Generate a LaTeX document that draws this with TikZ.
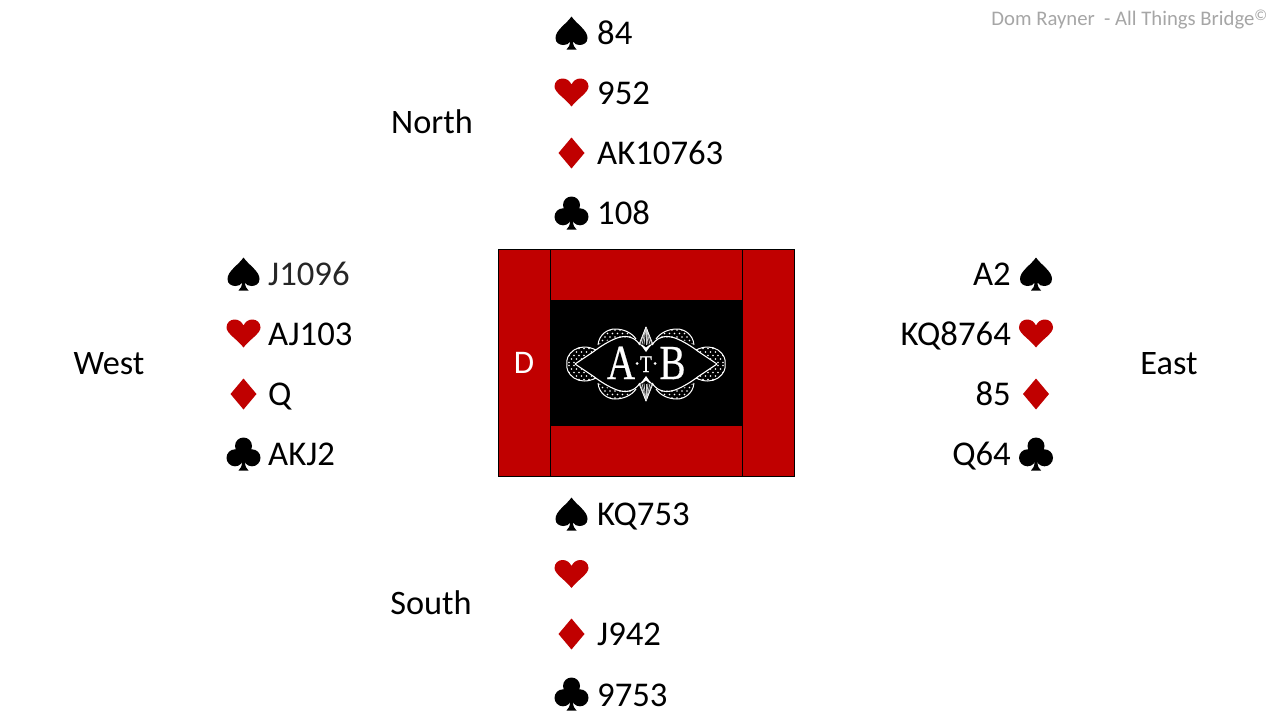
\documentclass[tikz,border=0pt]{standalone}
\usepackage{fontspec}
\setmainfont{Carlito}
\newfontfamily\logofont[FakeBold=0.5]{Liberation Serif}
\definecolor{atbred}{HTML}{C00000}
\definecolor{wmgrey}{HTML}{A6A6A6}
\tikzset{
  handtext/.style={font=\fontsize{34.7}{40}\selectfont, inner sep=0pt, text=black, yshift=-1pt},
  hw/.style={handtext, anchor=base west},
  he/.style={handtext, anchor=base east},
  seat/.style={font=\fontsize{34.3}{38}\selectfont, inner sep=0pt, anchor=base, text=black},
  felt/.style={fill=atbred, draw=black, line width=0.9pt},
  logoline/.style={draw=white, line width=1pt},
  logoletter/.style={font=\logofont\fontsize{49}{50}\selectfont, text=white, inner sep=0pt, anchor=base},
  spadesuit/.pic={\fill[black] (0,-16.5) .. controls (-5,-9) and (-16,-3) .. (-16,5) .. controls (-16,10) and (-12,12) .. (-8,12) .. controls (-5,12) and (-3,11) .. (-1.5,8.5) .. controls (-1.5,12) and (-3,15) .. (-5,16.5) -- (5,16.5) .. controls (3,15) and (1.5,12) .. (1.5,8.5) .. controls (3,11) and (5,12) .. (8,12) .. controls (12,12) and (16,10) .. (16,5) .. controls (16,-3) and (5,-9) .. (0,-16.5) -- cycle;},
  heartsuit/.pic={\fill[atbred] (0,14) .. controls (-6,6) and (-17,0) .. (-17,-6) .. controls (-17,-11) and (-13,-14) .. (-9,-14) .. controls (-5,-14) and (-2,-12) .. (0,-8) .. controls (2,-12) and (5,-14) .. (9,-14) .. controls (13,-14) and (17,-11) .. (17,-6) .. controls (17,0) and (6,6) .. (0,14) -- cycle;},
  diamondsuit/.pic={\fill[atbred] (0,-15.5) -- (13,0) -- (0,15.5) -- (-13,0) -- cycle;},
  clubsuit/.pic={\fill[black] (0,-8) circle (8.5) (-8.5,3.8) circle (8.5) (8.5,3.8) circle (8.5);
    \fill[black] (-1.5,-2) -- (1.5,-2) -- (1.5,8) .. controls (1.5,12) and (3,15) .. (5,16.5) -- (-5,16.5) .. controls (-3,15) and (-1.5,12) .. (-1.5,8) -- cycle;},
}
\begin{document}
\begin{tikzpicture}[x=1pt,y=-1pt]
\useasboundingbox (0,0) rectangle (1280,720);
\fill[white] (0,0) rectangle (1280,720);
% table
\filldraw[felt] (498.5,249.5) rectangle (794.5,476.5);
\draw[black,line width=0.8pt] (550.5,249.5) -- (550.5,476.5) (742.5,249.5) -- (742.5,476.5);
\fill[black] (550.5,300) rectangle (742.5,426);
\node[font=\fontsize{33}{38}\selectfont,text=white,inner sep=0pt,anchor=base] (dealer) at (524,373.5) {D};
% logo
\begin{scope}[shift={(646,364)}]
  \foreach \sx in {1,-1} \foreach \sy in {1,-1} {
    \begin{scope}[xscale=\sx,yscale=\sy]
      % dots in the side lobe and top lobe
      \begin{scope}
        \clip (-71,0) .. controls (-64,-4) and (-58,-9) .. (-50,-14) .. controls (-58,-18) and (-66,-18) .. (-72,-14) .. controls (-78,-10) and (-80,-4) .. (-79,0) -- cycle;
        \foreach \i in {0,...,6} \foreach \j in {0,...,4}
          \fill[white] (-82+\i*5+\j*2.5,-1.5-\j*3.5) circle (0.85);
      \end{scope}
      \begin{scope}
        \clip (-48,-19) .. controls (-47,-30) and (-38,-35) .. (-31,-35) .. controls (-22,-35) and (-14,-31) .. (-10,-25) .. controls (-18,-28) and (-35,-27) .. (-48,-19) -- cycle;
        \foreach \i in {0,...,9} \foreach \j in {0,...,4}
          \fill[white] (-56+\i*5+\j*2.5,-20-\j*3.5) circle (0.85);
      \end{scope}
      % outlines
      \draw[logoline] (-50,-14) .. controls (-58,-18) and (-66,-18) .. (-72,-14) .. controls (-78,-10) and (-80,-4) .. (-79,0);
      \draw[logoline] (-48,-19) .. controls (-47,-30) and (-38,-35) .. (-31,-35) .. controls (-22,-35) and (-14,-31) .. (-10,-25);
      % main lens
      \draw[logoline,line width=1.1pt] (-71,0) .. controls (-65,-4) and (-59,-8) .. (-53,-12) .. controls (-45,-18) and (-37,-23) .. (-29,-26) .. controls (-23,-28) and (-18,-28) .. (-14,-26) .. controls (-11,-25) and (-8,-22) .. (-6,-19);
      % spike
      \foreach \k in {0,2,4,6}
        \draw[white!80!black,line width=0.75pt] (0,-37) -- (\k,-19.5);
      \draw[white,line width=0.8pt] (0,-37) -- (7,-19.5);
      \fill[white] (-7.5,-20.5) .. controls (-4,-18) and (-2,-15) .. (0,-12) -- (0,-16.5) .. controls (-2,-18) and (-4,-20) .. (-7.5,-20.5) -- cycle;
    \end{scope}
  }
\end{scope}
\node[logoletter,xscale=.8] (logo) at (646.2,379) {A\hspace{6.2pt}\raisebox{7pt}{\fontsize{24}{26}\selectfont T}\hspace{9.4pt}B};
\fill[white] (637,363.5) circle (1.5) (655,363.5) circle (1.5);
% seat labels
\node[seat] (north) at (432,133) {North};
\node[seat] (south) at (431,614) {South};
\node[seat] (west) at (109,374) {West};
\node[seat] (east) at (1169,374) {East};
% north
\pic at (571.5,33) {spadesuit};
\pic at (571.5,92.5) {heartsuit};
\pic at (571.5,153) {diamondsuit};
\pic at (571.5,213) {clubsuit};
\node[hw] (ns) at (597,43) {84};
\node[hw] (nh) at (597,103) {952};
\node[hw] (nd) at (597,163) {AK10763};
\node[hw] (nc) at (597,223) {108};
% south
\pic at (571.5,514) {spadesuit};
\pic at (571.5,574) {heartsuit};
\pic at (571.5,634) {diamondsuit};
\pic at (571.5,694) {clubsuit};
\node[hw] (ss) at (597,524) {KQ753};
\node[hw] (sd) at (597,644) {J942};
\node[hw] (sc) at (597,705) {9753};
% west
\pic at (243.5,274) {spadesuit};
\pic at (243.5,333.5) {heartsuit};
\pic at (243.5,394) {diamondsuit};
\pic at (243.5,454) {clubsuit};
\node[hw,text=black!85!white] (ws) at (268,284) {J1096};
\node[hw] (wh) at (268,344) {AJ103};
\node[hw] (wd) at (268,404) {Q};
\node[hw] (wc) at (268,464) {AKJ2};
% east
\pic at (1036,274) {spadesuit};
\pic at (1036,333.5) {heartsuit};
\pic at (1036,394) {diamondsuit};
\pic at (1036,454) {clubsuit};
\node[he] (es) at (1011,284) {A2};
\node[he] (eh) at (1011,344) {KQ8764};
\node[he] (ed) at (1011,404) {85};
\node[he] (ec) at (1011,464) {Q64};
% watermark
\node[font=\fontsize{20.7}{24}\selectfont,text=wmgrey,inner sep=0pt,anchor=base east] (credit) at (1268,25.5) {Dom Rayner\ \ - All Things Bridge{\fontsize{22}{24}\selectfont\raisebox{-3pt}{\textsuperscript{©}}}};
\end{tikzpicture}
\end{document}
